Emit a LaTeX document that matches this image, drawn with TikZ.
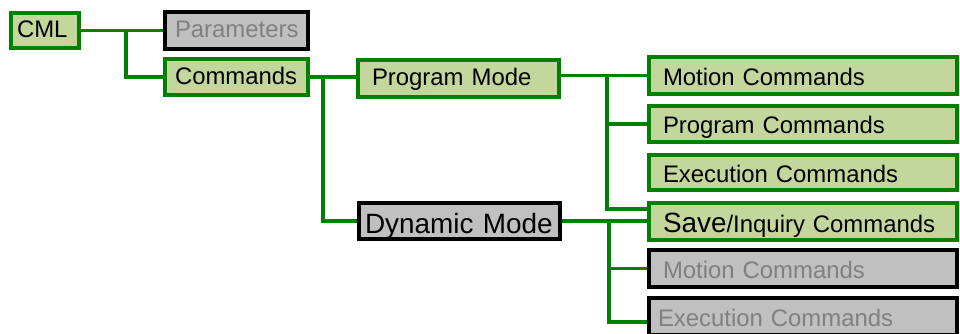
\documentclass[tikz,border=0pt]{standalone}
\usepackage{fontspec}
\setmainfont{Liberation Sans}
\usetikzlibrary{backgrounds}
\definecolor{lgreen}{RGB}{0,128,0}
\definecolor{lfill}{RGB}{195,214,155}
\definecolor{gfill}{RGB}{192,192,192}
\definecolor{gtext}{RGB}{128,128,128}
\begin{document}
\begin{tikzpicture}[x=1pt,y=-1pt,
  base/.style={line width=3.8pt, rectangle, anchor=center, align=left, inner ysep=0pt,
    font=\fontsize{23.9}{28}\selectfont, text height=19pt, text depth=0pt},
  gbox/.style={base, draw=lgreen, fill=lfill, text=black},
  xbox/.style={base, draw=black, fill=gfill, text=gtext},
  bigtext/.style={font=\fontsize{27.9}{32}\selectfont, text height=24.5pt},
  link/.style={draw=lgreen, line width=3.3pt}]
\useasboundingbox (0,0) rectangle (960,334);
% nodes
\node[gbox, text height=15pt, minimum width=68.2pt, minimum height=35.2pt, inner xsep=6pt, text width=56pt] (cml) at (45,30.5) {CML};
\node[xbox, text height=14.5pt, minimum width=143.2pt, minimum height=37.2pt, inner xsep=10pt, text width=123pt] (params) at (236.5,30.5) {Parameters};
\node[gbox, text height=16pt, minimum width=143.2pt, minimum height=36.2pt, inner xsep=10pt, text width=123pt] (cmds) at (236.5,77) {Commands};
\node[gbox, text height=14.5pt, minimum width=201.2pt, minimum height=37.2pt, inner xsep=14pt, text width=173pt] (pm) at (458.5,78.5) {Program Mode};
\node[xbox, bigtext, text=black, minimum width=201.2pt, minimum height=36.2pt, inner xsep=6pt, text width=189pt] (dm) at (459.5,221) {Dynamic Mode};
\node[gbox, text height=20pt, minimum width=308.2pt, minimum height=37.2pt, inner xsep=14pt, text width=280pt] (m1) at (803,75.5) {Motion Commands};
\node[gbox, minimum width=308.2pt, minimum height=36.2pt, inner xsep=14pt, text width=280pt] (m2) at (803,124) {Program Commands};
\node[gbox, minimum width=308.2pt, minimum height=35.2pt, inner xsep=14pt, text width=280pt] (m3) at (803,172.5) {Execution Commands};
\node[gbox, minimum width=308.2pt, minimum height=37.2pt, inner xsep=14pt, text width=280pt, text height=22pt] (save) at (803,221.5) {{\fontsize{27.9}{32}\selectfont Save}/Inquiry Commands};
\node[xbox, minimum width=308.2pt, minimum height=37.2pt, inner xsep=14pt, text width=280pt] (xm) at (803,268.5) {Motion Commands};
\node[xbox, minimum width=308.2pt, minimum height=37.2pt, inner xsep=9pt, text width=290pt] (xe) at (803,316.5) {Execution Commands};
% connectors
\coordinate (j1) at (126,30.5);
\coordinate (j2) at (323,77);
\coordinate (j3) at (607,75.5);
\coordinate (j4) at (609,221);
\begin{pgfonlayer}{background}
\fill[white] (0,0) rectangle (960,334);
\draw[link] (cml.east) -- (params.west);
\draw[link] (j1) |- (cmds.west);
\draw[link] (cmds.east) -- (cmds.east -| pm.west);
\draw[link] (j2) |- (dm.west);
\draw[link] (m1.west -| pm.east) -- (m1.west);
\draw[link] (j3) |- (m2.west);
\draw[link] (j3) |- ([yshift=12.5pt]save.west);
\draw[link] (dm.east) -- (dm.east -| save.west);
\draw[link] (j4) |- (xm.west);
\draw[link] (j4) |- ([yshift=-5.5pt]xe.west);
\end{pgfonlayer}
\end{tikzpicture}
\end{document}
